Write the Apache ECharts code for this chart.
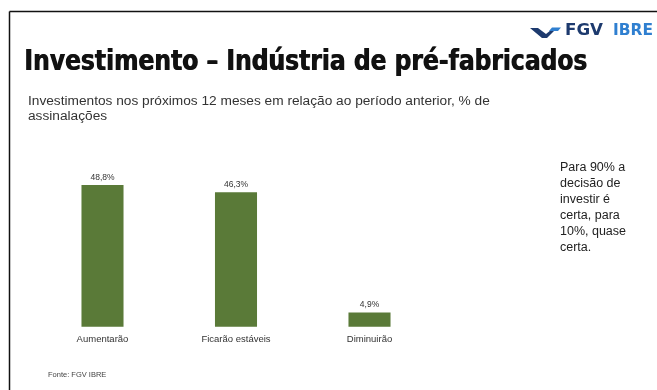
<!DOCTYPE html>
<html>
<head>
<meta charset="utf-8">
<script src="https://cdn.jsdelivr.net/npm/echarts@6/dist/echarts.min.js"></script>
<style>
  html, body { margin: 0; padding: 0; background: #ffffff; }
  #chart { width: 657px; height: 390px; }
</style>
</head>
<body>
<div id="chart"></div>
<script>
// Intenção de investimento na indústria de pré-fabricados
const categories = ['Aumentarão', 'Ficarão estáveis', 'Diminuirão'];
const shares = [48.8, 46.3, 4.9];
const titleText = 'Investimento – Indústria de pré-fabricados';
const subtitleText = 'Investimentos nos próximos 12 meses em relação ao período anterior, % de\nassinalações';
const noteText = 'Para 90% a\ndecisão de\ninvestir é\ncerta, para\n10%, quase\ncerta.';
const sourceText = 'Fonte: FGV IBRE';

const chart = echarts.init(document.getElementById('chart'), null, { renderer: 'canvas' });

const fmt = v => v.toFixed(1).replace('.', ',') + '%';

// horizontal scale that makes a string occupy a given width
const ctx = document.createElement('canvas').getContext('2d');
function fitScale(text, font, width) {
  ctx.font = font;
  return width / ctx.measureText(text).width;
}

const titleFont = 'bold 28px "DejaVu Sans Condensed"';
const logoFont = 'bold 15px "DejaVu Sans"';
const titleScale = fitScale(titleText, titleFont, 563);

// heavy title: the same text laid twice with a small horizontal offset
const titleLayers = [0, 0.8].map(dx => ({
  type: 'text', x: 24 + dx, y: 49, scaleX: titleScale,
  style: { text: titleText, font: titleFont, fill: '#111' }
}));

chart.setOption({
  animation: false,
  backgroundColor: '#ffffff',
  grid: { left: 35.75, width: 400.5, top: 181.5, height: 145.2, containLabel: false },
  xAxis: {
    type: 'category',
    data: categories,
    axisLine: { show: false },
    axisTick: { show: false },
    axisLabel: { color: '#333', fontSize: 9.5, fontFamily: 'Liberation Sans', margin: 8 }
  },
  yAxis: {
    type: 'value', min: 0, max: 50, show: false,
    splitLine: { show: false }
  },
  series: [{
    type: 'bar',
    data: shares,
    barWidth: '31.5%',
    itemStyle: { color: '#5a7a38' },
    label: {
      show: true, position: 'top', distance: 3,
      color: '#333', fontSize: 8.5, fontFamily: 'Liberation Sans',
      formatter: p => fmt(p.value)
    }
  }],
  graphic: [
    // moldura superior e esquerda
    { type: 'line', shape: { x1: 9.5, y1: 11.5, x2: 657, y2: 11.5 }, style: { stroke: '#111', lineWidth: 1.5 } },
    { type: 'line', shape: { x1: 9.5, y1: 11.5, x2: 9.5, y2: 390 }, style: { stroke: '#111', lineWidth: 1.5 } },
    // marca FGV IBRE
    { type: 'polygon', shape: { points: [[530, 28], [538, 28], [546, 34], [551, 30], [555, 30], [547, 38], [542, 38]] }, style: { fill: '#1d3a6e' } },
    { type: 'polygon', shape: { points: [[552, 27.5], [561, 27.5], [558, 31], [549, 31]] }, style: { fill: '#2f7fd0' } },
    { type: 'text', x: 565, y: 24, scaleX: fitScale('FGV', logoFont, 38), style: { text: 'FGV', font: logoFont, fill: '#1d3a6e' } },
    { type: 'text', x: 613, y: 24, scaleX: fitScale('IBRE', logoFont, 40), style: { text: 'IBRE', font: logoFont, fill: '#2f7fd0' } },
    // títulos
    ...titleLayers,
    { type: 'text', left: 28, top: 94, style: { text: subtitleText, font: '13.7px "Liberation Sans"', fill: '#333', lineHeight: 15 } },
    // nota lateral
    { type: 'text', left: 560, top: 160, style: { text: noteText, font: '12.5px "Liberation Sans"', fill: '#222', lineHeight: 16 } },
    // fonte
    { type: 'text', left: 48, top: 371, style: { text: sourceText, font: '7.5px "Liberation Sans"', fill: '#444' } }
  ]
});
</script>
</body>
</html>
